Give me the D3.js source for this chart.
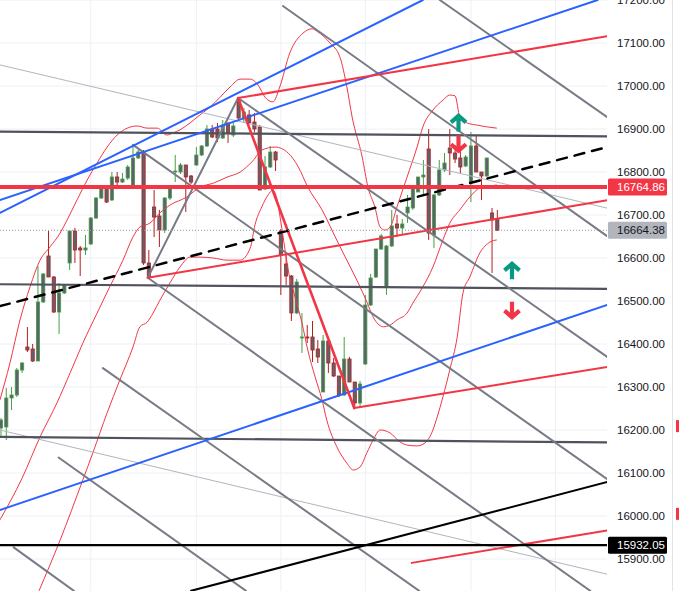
<!DOCTYPE html>
<html>
<head>
<meta charset="utf-8">
<script src="https://cdn.jsdelivr.net/npm/d3@7"></script>
<style>
  body { margin: 0; background: #fff; overflow: hidden; }
  #chart { width: 679px; height: 591px; }
  svg { display: block; }
</style>
</head>
<body>
<div id="chart"></div>
<script>

// candles, one per bar index
const opens = [16204.6,16207.0,16274.4,16281.4,16339.5,16393.0,16388.4,16360.5,16497.7,16604.7,
  16555.8,16474.4,16518.6,16588.4,16662.8,16623.3,16618.6,16632.6,16693.0,16739.5,
  16762.8,16734.9,16788.4,16776.7,16786.0,16765.1,16832.6,16846.5,16588.4,16718.6,
  16697.7,16665.1,16739.5,16800.0,16800.0,16816.3,16790.7,16816.3,16839.5,16860.5,
  16900.0,16900.0,16879.1,16914.0,16886.0,16967.4,16925.6,16932.6,16916.3,16904.7,
  16760.5,16811.6,16846.5,16662.8,16586.0,16558.1,16472.1,16414.0,16416.3,16416.3,
  16388.4,16288.4,16407.0,16355.8,16325.6,16281.4,16365.1,16311.6,16262.8,16353.5,
  16490.7,16555.8,16620.9,16532.6,16627.9,16679.1,16669.8,16704.7,16716.3,16753.5,
  16788.4,16853.5,16653.5,16746.5,16804.7,16855.8,16844.2,16832.6,16814.0,16776.7,
  16860.5,16800.0,16790.7,16704.7,16690.7];
const highs = [16227.9,16297.7,16300.0,16344.2,16358.1,16439.5,16400.0,16581.4,16565.1,16662.8,
  16558.1,16541.9,16539.5,16662.8,16669.8,16627.9,16653.5,16695.3,16741.9,16767.4,
  16765.1,16800.0,16800.0,16797.7,16816.3,16862.8,16851.2,16851.2,16618.6,16758.1,
  16711.6,16741.9,16769.8,16839.5,16820.9,16816.3,16793.0,16858.1,16862.8,16909.3,
  16909.3,16914.0,16920.9,16914.0,16914.0,16974.4,16948.8,16944.2,16937.2,16909.3,
  16837.2,16860.5,16848.8,16667.4,16607.0,16560.5,16551.2,16472.1,16444.2,16453.5,
  16409.3,16420.9,16407.0,16367.4,16325.6,16416.3,16369.8,16311.6,16314.0,16514.0,
  16562.8,16620.9,16655.8,16630.2,16711.6,16700.0,16690.7,16746.5,16765.1,16788.4,
  16827.9,16900.0,16748.8,16827.9,16844.2,16900.0,16862.8,16851.2,16839.5,16893.0,
  16883.7,16800.0,16832.6,16716.3,16711.6];
const lows = [16181.4,16176.7,16246.5,16276.7,16332.6,16381.4,16358.1,16360.5,16495.3,16555.8,
  16472.1,16423.3,16516.3,16572.1,16588.4,16558.1,16607.0,16630.2,16690.7,16737.2,
  16727.9,16732.6,16760.5,16774.4,16781.4,16762.8,16830.2,16583.7,16553.5,16648.8,
  16625.6,16658.1,16734.9,16776.7,16795.3,16707.0,16772.1,16814.0,16837.2,16858.1,
  16879.1,16869.8,16876.7,16867.4,16881.4,16923.3,16914.0,16911.6,16893.0,16758.1,
  16758.1,16809.3,16802.3,16514.0,16537.2,16453.5,16469.8,16379.1,16402.3,16358.1,
  16355.8,16288.4,16332.6,16323.3,16276.7,16279.1,16311.6,16251.2,16253.5,16351.2,
  16488.4,16553.5,16618.6,16514.0,16625.6,16648.8,16653.5,16681.4,16711.6,16753.5,
  16746.5,16641.9,16623.3,16744.2,16800.0,16793.0,16820.9,16797.7,16811.6,16730.2,
  16800.0,16734.9,16788.4,16565.1,16664.4];
const closes = [16223.3,16274.4,16281.4,16339.5,16355.8,16386.0,16360.5,16497.7,16562.8,16555.8,
  16474.4,16518.6,16537.2,16662.8,16618.6,16618.6,16623.3,16693.0,16739.5,16762.8,
  16730.2,16788.4,16776.7,16783.7,16811.6,16832.6,16846.5,16588.4,16555.8,16695.3,
  16665.1,16739.5,16760.5,16802.3,16816.3,16788.4,16776.7,16839.5,16860.5,16900.0,
  16881.4,16879.1,16909.3,16890.7,16907.0,16925.6,16939.5,16914.0,16900.0,16758.1,
  16811.6,16846.5,16827.9,16607.0,16558.1,16472.1,16544.2,16416.3,16414.0,16386.0,
  16369.8,16407.0,16355.8,16325.6,16281.4,16365.1,16311.6,16262.8,16307.0,16490.7,
  16553.5,16620.9,16651.2,16627.9,16674.4,16669.8,16679.1,16718.6,16765.1,16788.4,
  16793.0,16658.1,16746.5,16804.7,16820.9,16844.2,16830.2,16811.6,16834.9,16860.5,
  16800.0,16790.7,16832.6,16688.4,16664.38];

// bollinger bands, [bar index, price]
const upperBand = [[-0.2,16270],[1.7,16356],[3.6,16456],[5.5,16533],[7.4,16595],[9.3,16626],
  [11.2,16658],[12.5,16688],[14.4,16735],[16.3,16781],[18.2,16821],[20.1,16858],[22,16886],
  [23.9,16902],[25.8,16907],[27.7,16902],[29.6,16902],[31.4,16886],[32.6,16891],[33.9,16898],
  [35.8,16914],[37.7,16933],[39.6,16951],[41.5,16974],[43.4,16998],[45.3,17016],[47.2,17016],
  [48.7,17002],[50,16974],[51.5,16963],[52.8,16998],[54.7,17077],[57.2,17123],[58.9,17133],
  [60,17126],[62.3,17100],[64.2,17067],[65.5,16998],[66.5,16928],[68.4,16835],[69.5,16765],
  [70.8,16719],[71.8,16672],[72.7,16665],[73.7,16672],[75,16719],[76.9,16788],[78.8,16858],
  [79.9,16905],[81.8,16944],[83.7,16967],[85,16979],[86,16977],[86.9,16928],[88.3,16914],
  [90.2,16909],[92,16905],[93.9,16902]];
const basisBand = [[-0.2,15991],[4,16088],[7.4,16184],[10.6,16263],[13.1,16333],[15.5,16402],
  [18.2,16472],[20.6,16533],[23.1,16595],[25,16649],[26.3,16672],[28.2,16681],[30.1,16705],
  [32,16723],[35.2,16742],[37.7,16765],[40.2,16774],[42.8,16788],[45.3,16800],[47.7,16826],
  [49.4,16851],[51.9,16858],[54.4,16844],[56.3,16812],[58.1,16765],[60.8,16712],[63.3,16649],
  [65.2,16602],[67.1,16556],[68.9,16509],[70.8,16456],[72.4,16440],[73.7,16444],[75,16456],
  [76.9,16472],[78,16495],[79.9,16533],[81.8,16579],[83.7,16642],[85,16681],[86.9,16712],
  [88.8,16742],[90.7,16763],[92.6,16767],[93.9,16770]];
const lowerBand = [[7.2,15826],[11.2,15944],[15.5,16084],[17.4,16147],[20.1,16240],[22.5,16316],
  [25,16393],[26.3,16440],[27.7,16451],[28.8,16472],[30.1,16502],[32,16542],[33.9,16579],
  [35.8,16602],[37.7,16602],[40.2,16600],[42.8,16595],[45.3,16595],[47.2,16623],[48.1,16677],
  [49.4,16719],[50.6,16747],[51.5,16758],[52.3,16735],[53,16684],[53.8,16619],[54.4,16572],
  [55.7,16509],[57,16449],[58.1,16386],[59.5,16323],[60.8,16270],[61.7,16223],[63.6,16161],
  [65.5,16123],[66.7,16107],[68,16114],[69.3,16147],[70.5,16177],[71.8,16200],[73.7,16193],
  [75.6,16172],[76.9,16165],[78.8,16163],[80.3,16170],[81.8,16200],[82.6,16230],[83.7,16277],
  [85,16340],[86.4,16416],[87.5,16519],[88.8,16556],[90.7,16612],[92.6,16637],[93.9,16642]];

// drawings, each [[bar, price], [bar, price]]
const blueLines = [
  [[-0.2,16735],[113,17200]],
  [[-0.2,16705],[79.9,17200]],
  [[-0.2,16014],[114.8,16491]]
];
const redChannel = [
  [[44.9,16972],[115,17116]],
  [[27.8,16554],[115,16735]],
  [[66.9,16251],[115,16347]],
  [[77.8,15891],[115,15967]]
];
const redSwing = [[44.9,16972],[66.9,16251]];
const graySwing = [[27.8,16554],[44.9,16972]];
const grayLines = [
  [[25,16863],[115,16084]],
  [[44.9,16972],[114.8,16370]],
  [[53.4,17186],[114.8,16651]],
  [[83.1,17200],[115,16926]],
  [[27.8,16554],[111.6,15826]],
  [[19.3,16344],[79.2,15826]],
  [[10.9,16136],[46.4,15826]],
  [[2.4,15927],[13.8,15826]]
];
const thinLines = [
  [[-0.2,17049],[114.8,16716]],
  [[-0.2,16200],[115,15864]]
];
const darkLines = [
  [[-0.2,16894],[115,16883]],
  [[-0.2,16539],[115,16528]],
  [[-0.2,16184],[115,16171]]
];
const dashedLine = [[-0.2,16488],[114.8,16858]];
const blackLine = [[36,15826],[115.1,16080]];

const redLevel = 16764.86;
const blackLevel = 15932.05;
const lastPrice = 16664.38;

// arrow markers: bar, tip price, direction
const arrowMarks = [[86.65,16934,"up"],[86.65,16846,"down"],[96.78,16590,"up"],[96.78,16459,"down"]];

const priceTicks = [17200,17100,17000,16900,16800,16700,16600,16500,16400,16300,16200,16100,16000,15900];
const timeGrid = [17, 37, 53, 69, 89, 105];
const sideMarks = [16209, 16005];

/* canvas */
const width = 679, height = 591, plotW = 607;
const svg = d3.select("#chart").append("svg").attr("width", width).attr("height", height);

const x = d3.scaleLinear().domain([0, 115]).range([1, 608.2]);
const y = d3.scaleLinear().domain([15800, 17200]).range([602, 0]);

svg.append("defs").append("clipPath").attr("id", "plot")
  .append("rect").attr("width", plotW).attr("height", height);

const plot = svg.append("g").attr("clip-path", "url(#plot)");

// grid
plot.append("g").selectAll("line").data(priceTicks).join("line")
  .attr("x1", 0).attr("x2", plotW)
  .attr("y1", d => y(d)).attr("y2", d => y(d))
  .attr("stroke", "#eef0f4");
plot.append("g").selectAll("line").data(timeGrid).join("line")
  .attr("x1", d => x(d)).attr("x2", d => x(d))
  .attr("y1", 0).attr("y2", height)
  .attr("stroke", "#eef0f4");

// candles
const bars = d3.range(opens.length).map(i => ({i: i, o: opens[i], h: highs[i], l: lows[i], c: closes[i]}));
const upCol = "#43a047", downCol = "#b71c1c";
const cg = plot.append("g");
cg.selectAll("line").data(bars).join("line")
  .attr("x1", d => x(d.i)).attr("x2", d => x(d.i))
  .attr("y1", d => y(d.h)).attr("y2", d => y(d.l))
  .attr("stroke", d => d.c >= d.o ? upCol : downCol)
  .attr("stroke-width", 1);
cg.selectAll("rect").data(bars).join("rect")
  .attr("x", d => x(d.i) - 1.6)
  .attr("width", 3.2)
  .attr("y", d => y(Math.max(d.o, d.c)))
  .attr("height", d => Math.max(1, y(Math.min(d.o, d.c)) - y(Math.max(d.o, d.c))))
  .attr("fill", "#5f626c")
  .attr("stroke", d => d.c >= d.o ? upCol : downCol)
  .attr("stroke-width", 0.8);

// bands
const bandLine = d3.line().x(d => x(d[0])).y(d => y(d[1])).curve(d3.curveMonotoneX);
[upperBand, basisBand, lowerBand].forEach(b => {
  plot.append("path").attr("d", bandLine(b))
    .attr("fill", "none").attr("stroke", "#f23645").attr("stroke-width", 1);
});

// trend lines
function seg(group, list, color, w, dash) {
  group.selectAll(null).data(list).join("line")
    .attr("x1", d => x(d[0][0])).attr("y1", d => y(d[0][1]))
    .attr("x2", d => x(d[1][0])).attr("y2", d => y(d[1][1]))
    .attr("stroke", color).attr("stroke-width", w)
    .attr("stroke-dasharray", dash || null)
    .attr("stroke-linecap", "round");
}
const dg = plot.append("g");
seg(dg, thinLines, "#b2b5be", 1);
seg(dg, darkLines, "#50535e", 2.2);
seg(dg, grayLines, "#787b86", 2);
seg(dg, [graySwing], "#787b86", 2);
seg(dg, blueLines, "#2962ff", 2);
seg(dg, redChannel, "#f23645", 2);
seg(dg, [redSwing], "#f23645", 2.6);
seg(dg, [dashedLine], "#000", 2.5, "10,8");
seg(dg, [blackLine], "#000", 2);

// horizontal levels
dg.append("line").attr("x1", 0).attr("x2", plotW)
  .attr("y1", y(lastPrice)).attr("y2", y(lastPrice))
  .attr("stroke", "#9598a1").attr("stroke-dasharray", "1,2");
dg.append("line").attr("x1", 0).attr("x2", plotW)
  .attr("y1", y(redLevel)).attr("y2", y(redLevel))
  .attr("stroke", "#f23645").attr("stroke-width", 4);
dg.append("line").attr("x1", 0).attr("x2", plotW)
  .attr("y1", y(blackLevel)).attr("y2", y(blackLevel))
  .attr("stroke", "#000").attr("stroke-width", 2.2);

// arrows
function arrowPath(d) {
  const px = x(d[0]), py = y(d[1]), s = d[2] === "up" ? 1 : -1;
  return `M${px},${py + s * 17}L${px},${py + s * 2}M${px - 7.5},${py + s * 8}L${px},${py + s * 1.5}L${px + 7.5},${py + s * 8}`;
}
plot.append("g").selectAll("path").data(arrowMarks).join("path")
  .attr("d", arrowPath)
  .attr("fill", "none")
  .attr("stroke", d => d[2] === "up" ? "#089981" : "#f23645")
  .attr("stroke-width", 4.2)
  .attr("stroke-linejoin", "miter");

// price axis
const axisG = svg.append("g").attr("transform", `translate(${plotW},0)`)
  .call(d3.axisRight(y).tickValues(priceTicks).tickFormat(d3.format(".2f")).tickSize(0).tickPadding(10));
axisG.select(".domain").remove();
axisG.selectAll("text")
  .attr("fill", "#131722")
  .attr("font-family", "'Liberation Sans', Arial, sans-serif")
  .attr("font-size", 11.5);

// price tags
const tagValues = [redLevel, lastPrice, blackLevel];
const tagFill = ["#f23645", "#b2b5be", "#000"];
const tagText = ["#fff", "#131722", "#fff"];
const tags = svg.append("g").selectAll("g").data(tagValues).join("g")
  .attr("transform", d => `translate(${plotW + 1},${y(d)})`);
tags.append("rect").attr("x", 0).attr("y", -8.5).attr("width", 59).attr("height", 17)
  .attr("rx", 1.5)
  .attr("fill", (d, i) => tagFill[i]);
tags.append("text").attr("x", 9).attr("dy", "0.35em")
  .attr("fill", (d, i) => tagText[i])
  .attr("font-family", "'Liberation Sans', Arial, sans-serif")
  .attr("font-size", 11.5)
  .text(d => d3.format(".2f")(d));

// right strip
svg.append("line").attr("x1", 672.5).attr("x2", 672.5).attr("y1", 0).attr("y2", height)
  .attr("stroke", "#e0e3eb");
svg.append("g").selectAll("rect").data(sideMarks).join("rect")
  .attr("x", 676).attr("width", 4)
  .attr("y", d => y(d) - 6).attr("height", 12)
  .attr("fill", "#f23645");

</script>
</body>
</html>
